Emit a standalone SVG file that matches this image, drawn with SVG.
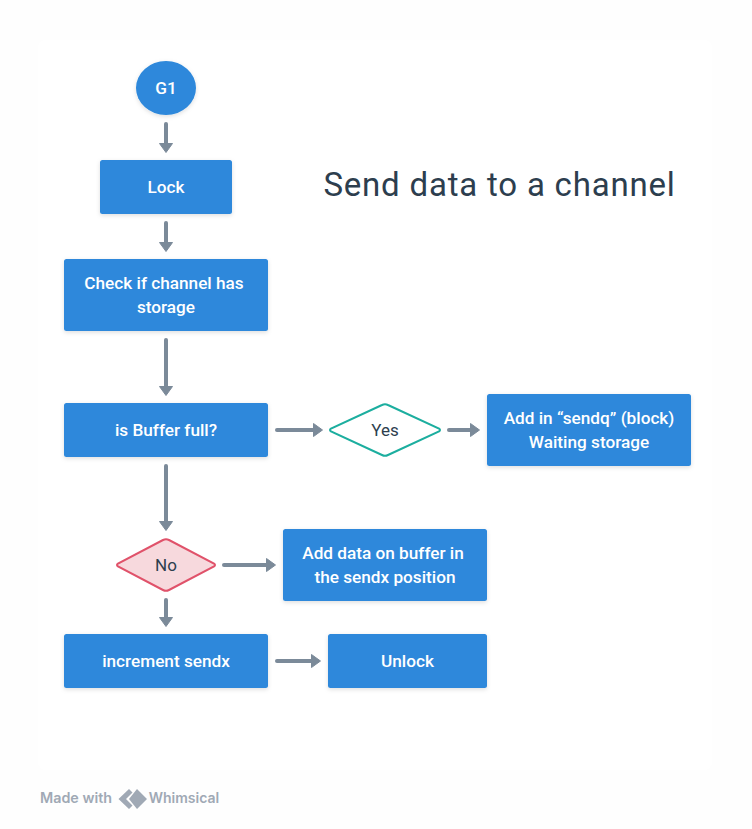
<svg xmlns="http://www.w3.org/2000/svg" width="752" height="829" viewBox="0 0 752 829">
<style>
text{font-family:"Roboto","Liberation Sans",sans-serif;text-anchor:middle}
.b{fill:#2d88db;filter:url(#s)}
.t{fill:#fff;font-size:17.200px;font-weight:500}
.d{fill:#2d3e4e;font-size:17px}
.f{fill:#a0a9b5;font-family:"Inter","Roboto",sans-serif;font-weight:600}
.c line{stroke:#7b8a99;stroke-width:4;stroke-linecap:round;marker-end:url(#a)}
</style>
<defs>
<filter id="s" x="-10%" y="-10%" width="120%" height="130%"><feDropShadow dx="0" dy="1.500" stdDeviation="2" flood-color="#000" flood-opacity=".13"/></filter>
<marker id="a" markerUnits="userSpaceOnUse" markerWidth="14" markerHeight="16" refX="3" refY="8" orient="auto"><path d="M0.500 1.500L9.500 8L0.500 14.500Z" fill="#7b8a99" stroke="#7b8a99" stroke-linejoin="round"/></marker>
</defs>
<rect width="752" height="829" fill="#fefefe"/>
<rect x="38" y="40" width="674" height="730" rx="8" fill="#fff"/>
<g class="c" id="connectors">
<line x1="166" y1="124" x2="166" y2="146"/>
<line x1="166" y1="223" x2="166" y2="245"/>
<line x1="166" y1="340" x2="166" y2="389"/>
<line x1="166" y1="466" x2="166" y2="524"/>
<line x1="166" y1="600" x2="166" y2="620"/>
<line x1="277" y1="430" x2="316" y2="430"/>
<line x1="449" y1="430" x2="473" y2="430"/>
<line x1="224" y1="565" x2="269" y2="565"/>
<line x1="277" y1="661" x2="314" y2="661"/>
</g>
<g id="g1"><ellipse class="b" cx="166" cy="88" rx="30" ry="27"/><text class="t" x="166" y="94">G1</text></g>
<g id="lock"><rect class="b" x="100" y="160" width="132" height="54" rx="2.500"/><text class="t" x="166" y="193">Lock</text></g>
<g id="check"><rect class="b" x="64" y="259" width="204" height="72" rx="2.500"/><text class="t" x="164" y="289">Check if channel has</text><text class="t" x="166" y="313">storage</text></g>
<g id="buffer"><rect class="b" x="64" y="403" width="204" height="54" rx="2.500"/><text class="t" x="166" y="436">is Buffer full?</text></g>
<g id="yes"><path d="M382 405Q385 403.500 388 405L439 428.500Q441 430 439 431.500L388 455Q385 456.500 382 455L331 431.500Q329 430 331 428.500Z" fill="#fff" stroke="#1cae9f" stroke-width="2"/><text class="d" x="385" y="436">Yes</text></g>
<g id="add-sendq"><rect class="b" x="487" y="394" width="204" height="72" rx="2.500"/><text class="t" x="589" y="423.500">Add in “sendq” (block)</text><text class="t" x="589" y="448">Waiting storage</text></g>
<g id="no"><path d="M163 540Q166 538.500 169 540L214 563.500Q216 565 214 566.500L169 590Q166 591.500 163 590L118 566.500Q116 565 118 563.500Z" fill="#f7d9dd" stroke="#e0526a" stroke-width="2"/><text class="d" x="166" y="571">No</text></g>
<g id="add-data"><rect class="b" x="283" y="529" width="204" height="72" rx="2.500"/><text class="t" x="383" y="559">Add data on buffer in</text><text class="t" x="385" y="583">the sendx position</text></g>
<g id="increment"><rect class="b" x="64" y="634" width="204" height="54" rx="2.500"/><text class="t" x="166" y="667">increment sendx</text></g>
<g id="unlock"><rect class="b" x="328" y="634" width="159" height="54" rx="2.500"/><text class="t" x="407.500" y="667">Unlock</text></g>
<text x="499.500" y="196" font-size="33" fill="#2d3e4e" style="letter-spacing:.8px">Send data to a channel</text>
<g id="footer">
<text class="f" x="76" y="803" font-size="14.300">Made with</text>
<path class="f" d="M129 789L118.500 799L129 809L132.500 805.500L126 799L132.500 792.500ZM137 789L147 799L137 809L129 799Z" fill-rule="evenodd"/>
<text class="f" x="184" y="803" font-size="14">Whimsical</text>
</g>
</svg>
